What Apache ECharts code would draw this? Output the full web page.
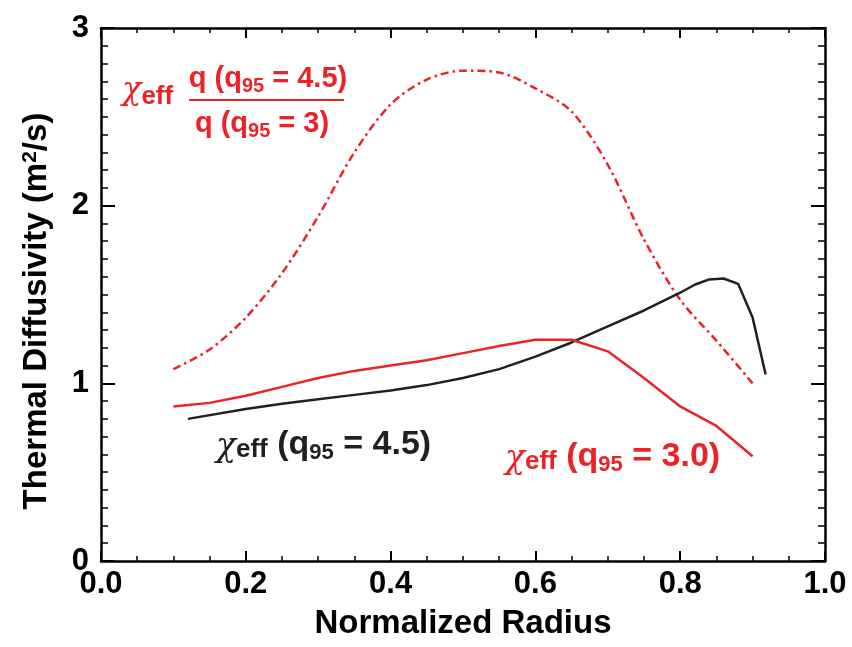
<!DOCTYPE html>
<html>
<head>
<meta charset="utf-8">
<script src="https://cdn.jsdelivr.net/npm/echarts@6/dist/echarts.min.js"></script>
<style>
html,body{margin:0;padding:0;background:#fff;}
#chart{width:852px;height:647px;}
</style>
</head>
<body>
<div id="chart"></div>
<script>
// ---- data ----
const radiusQ30 = [0.10, 0.15, 0.20, 0.25, 0.30, 0.35, 0.40, 0.45, 0.50, 0.55, 0.60, 0.65, 0.70, 0.75, 0.80, 0.85, 0.90];
const chiQ30    = [0.87, 0.89, 0.93, 0.98, 1.03, 1.07, 1.10, 1.13, 1.17, 1.21, 1.245, 1.245, 1.18, 1.03, 0.87, 0.76, 0.59];

const radiusQ45 = [0.12, 0.20, 0.25, 0.30, 0.35, 0.40, 0.45, 0.50, 0.55, 0.60, 0.65, 0.70, 0.75, 0.80, 0.82, 0.84, 0.86, 0.88, 0.90, 0.918];
const chiQ45    = [0.80, 0.855, 0.885, 0.91, 0.935, 0.96, 0.99, 1.03, 1.08, 1.15, 1.23, 1.32, 1.41, 1.51, 1.555, 1.585, 1.59, 1.56, 1.37, 1.05];

const radiusScaled = [0.10, 0.15, 0.20, 0.25, 0.30, 0.35, 0.40, 0.45, 0.50, 0.55, 0.60, 0.65, 0.70, 0.75, 0.80, 0.85, 0.90];
const chiScaled    = [1.08, 1.19, 1.37, 1.62, 1.94, 2.30, 2.57, 2.71, 2.76, 2.75, 2.66, 2.53, 2.23, 1.81, 1.47, 1.24, 1.00];

const xTickLabels = ['0.0', '0.2', '0.4', '0.6', '0.8', '1.0'];
const yTickLabels = ['0', '1', '2', '3'];

const xTitle = 'Normalized Radius';
const RED = '#ec2227';
const BLACK = '#231f20';
const FONT = '"Liberation Sans", Arial, Helvetica, sans-serif';

function pairs(xs, ys) { return xs.map((x, i) => [x, ys[i]]); }

const chart = echarts.init(document.getElementById('chart'), null, {renderer: 'canvas'});

const axisLineStyle = {show: true, onZero: false, lineStyle: {color: '#000', width: 2.5}};

function xAxisDef(pos, showLabel) {
  return {
    type: 'value', position: pos, min: 0, max: 1, interval: 0.2,
    axisLine: axisLineStyle,
    axisTick: {show: true, inside: true, length: 10, lineStyle: {color: '#000', width: 2}},
    minorTick: {show: true, splitNumber: 4, length: 5, lineStyle: {color: '#000', width: 1.5}},
    splitLine: {show: false}, minorSplitLine: {show: false},
    axisLabel: {show: showLabel, margin: 8, color: '#000', fontFamily: FONT, fontWeight: 'bold', fontSize: 31,
      formatter: v => xTickLabels[Math.round(v / 0.2)]},
    name: showLabel ? xTitle : '', nameLocation: 'middle', nameGap: 46,
    nameTextStyle: {color: '#000', fontFamily: FONT, fontWeight: 'bold', fontSize: 33}
  };
}
function yAxisDef(pos, showLabel) {
  return {
    type: 'value', position: pos, min: 0, max: 3, interval: 1,
    axisLine: axisLineStyle,
    axisTick: {show: true, inside: true, length: 14, lineStyle: {color: '#000', width: 2}},
    minorTick: {show: true, splitNumber: 10, length: 7, lineStyle: {color: '#000', width: 1.5}},
    splitLine: {show: false}, minorSplitLine: {show: false},
    axisLabel: {show: showLabel, margin: 12, color: '#000', fontFamily: FONT, fontWeight: 'bold', fontSize: 31,
      formatter: v => yTickLabels[Math.round(v)]}
  };
}

const bigT = {fontFamily: FONT, fontWeight: 'bold'};

function chiLabel(color, tail) {
  return {
    text: '{chi|χ}{eff|eff}{t| (q}{sub|95}{t| = ' + tail + ')}', align: 'left', verticalAlign: 'middle', fill: color,
    rich: {
      chi: {fontFamily: '"DejaVu Serif", serif', fontStyle: 'italic', fontSize: 33, fill: color, padding: [4, 0, 0, 0]},
      eff: Object.assign({fontSize: 26, fill: color, padding: [10, 0, 0, 0]}, bigT),
      t: Object.assign({fontSize: 34, fill: color}, bigT),
      sub: Object.assign({fontSize: 22, fill: color, padding: [16, 0, 0, 0]}, bigT)}
  };
}

const option = {
  backgroundColor: '#fff',
  animation: false,
  grid: {left: 101, top: 28, right: 27, bottom: 86, containLabel: false},
  xAxis: [xAxisDef('bottom', true), xAxisDef('top', false)],
  yAxis: [yAxisDef('left', true), yAxisDef('right', false)],
  series: [
    {type: 'line', xAxisIndex: 0, yAxisIndex: 0, data: pairs(radiusScaled, chiScaled), showSymbol: false, smooth: 0.3,
      lineStyle: {color: RED, width: 2.5, type: [8, 4, 2.5, 4]}},
    {type: 'line', xAxisIndex: 0, yAxisIndex: 0, data: pairs(radiusQ45, chiQ45), showSymbol: false,
      lineStyle: {color: BLACK, width: 2.5}},
    {type: 'line', xAxisIndex: 0, yAxisIndex: 0, data: pairs(radiusQ30, chiQ30), showSymbol: false,
      lineStyle: {color: RED, width: 2.5}}
  ],
  graphic: [
    // y-axis title
    {type: 'text', x: 37, y: 311, rotation: Math.PI / 2,
      style: {text: '{t|Thermal Diffusivity (m}{sup|2}{t|/s)}', align: 'center', verticalAlign: 'middle', fill: '#000',
        rich: {t: Object.assign({fontSize: 33, fill: '#000'}, bigT),
               sup: Object.assign({fontSize: 21, fill: '#000', padding: [0, 0, 14, 0]}, bigT)}}},
    // black annotation
    {type: 'text', x: 216, y: 445, style: chiLabel(BLACK, '4.5')},
    // red annotation
    {type: 'text', x: 505, y: 457, style: chiLabel(RED, '3.0')},
    // top red fraction annotation
    {type: 'text', x: 122, y: 91,
      style: {text: '{chi|χ}{eff|eff}', align: 'left', verticalAlign: 'middle', fill: RED,
        rich: {
          chi: {fontFamily: '"DejaVu Serif", serif', fontStyle: 'italic', fontSize: 32, fill: RED, padding: [0, 0, 0, 0]},
          eff: Object.assign({fontSize: 26, fill: RED, padding: [12, 0, 0, 0]}, bigT)}}},
    {type: 'text', x: 268, y: 79,
      style: {text: '{t|q (q}{sub|95}{t| = 4.5)}', align: 'center', verticalAlign: 'middle', fill: RED,
        rich: {t: Object.assign({fontSize: 29, fill: RED}, bigT),
               sub: Object.assign({fontSize: 20, fill: RED, padding: [14, 0, 0, 0]}, bigT)}}},
    {type: 'line', shape: {x1: 189, y1: 100, x2: 344, y2: 100}, style: {stroke: RED, lineWidth: 2}},
    {type: 'text', x: 262, y: 124,
      style: {text: '{t|q (q}{sub|95}{t| = 3)}', align: 'center', verticalAlign: 'middle', fill: RED,
        rich: {t: Object.assign({fontSize: 29, fill: RED}, bigT),
               sub: Object.assign({fontSize: 20, fill: RED, padding: [14, 0, 0, 0]}, bigT)}}}
  ]
};
chart.setOption(option);
</script>
</body>
</html>
